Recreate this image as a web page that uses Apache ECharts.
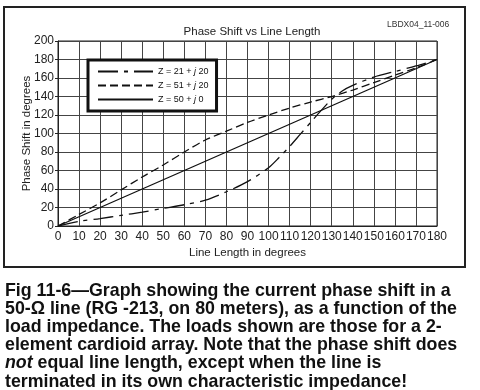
<!DOCTYPE html>
<html>
<head>
<meta charset="utf-8">
<script src="https://cdn.jsdelivr.net/npm/echarts@6/dist/echarts.min.js"></script>
<style>
html,body{margin:0;padding:0;background:#fff;}
#c{width:480px;height:390px;}
</style>
</head>
<body>
<div id="c"></div>
<script>
// ---- data ----
var xTicks = [0,10,20,30,40,50,60,70,80,90,100,110,120,130,140,150,160,170,180];
var z50X = [0,10,20,30,40,50,60,70,80,90,100,110,120,130,140,150,160,170,180];
var z50Y = [0,10,20,30,40,50,60,70,80,90,100,110,120,130,140,150,160,170,180];
var z51X = [0,10,20,30,40,50,60,70,80,90,100,110,120,130,140,150,160,170,180];
var z51Y = [0,12.5,25,39,53,66,80,93,102.5,112,120,127.5,134,140,147,155,163,171,180];
var z21X = [0,10,20,30,40,50,60,70,80,90,100,105,110,115,120,125,130,135,140,150,160,170,180];
var z21Y = [0,5,8,11.5,15,19,23,28,37,48,63,74,86,99,112,125,137,146,152,161,167,173,180];
var seriesNames = ['Z = 21 + j 20','Z = 51 + j 20','Z = 50 + j 0'];
var titleText = 'Phase Shift vs Line Length';
var codeText = 'LBDX04_11-006';
var xName = 'Line Length in degrees';
var yName = 'Phase Shift in degrees';
var captionLines = [
  'Fig 11-6\u2014Graph showing the current phase shift in a',
  '50-\u03A9 line (RG -213, on 80 meters), as a function of the',
  'load impedance. The loads shown are those for a 2-',
  'element cardioid array. Note that the phase shift does',
  '{it|not} equal line length, except when the line is',
  'terminated in its own characteristic impedance!'
];

function pairs(xs, ys){ return xs.map(function(x,i){ return [x, ys[i]]; }); }

var chart = echarts.init(document.getElementById('c'), null, {renderer:'canvas'});
var FONT = '"Liberation Sans", Arial, Helvetica, sans-serif';
var lineCol = '#111';
var CAP = 17.8;

var captionGraphics = captionLines.map(function(t, i){
  return {
    type:'text', left:5, top: 281.7 + i*18.2,
    style:{
      text:t, fill:'#111', font:'bold ' + CAP + 'px ' + FONT,
      rich:{ it:{ fontStyle:'italic', fontWeight:'bold', fontSize:CAP, fontFamily:FONT, fill:'#111' } }
    }
  };
});

chart.setOption({
  animation:false,
  backgroundColor:'#fff',
  textStyle:{fontFamily:FONT},
  title:{
    text:titleText, left:247, top:21, textAlign:'center',
    textStyle:{fontSize:11.5, fontWeight:'normal', color:'#222', fontFamily:FONT}
  },
  grid:{left:58, top:41, width:379, height:185, show:true, borderColor:'#222', borderWidth:1},
  legend:{
    orient:'vertical', left:88, top:60,
    data:seriesNames,
    itemWidth:55, itemHeight:8, itemGap:5,
    padding:[7,8,7,9],
    backgroundColor:'#fff', borderColor:'#111', borderWidth:3,
    itemStyle:{opacity:0},
    formatter:function(n){
      var m = n.match(/^(Z = \d+ \+ )j( \d+)$/);
      return '{a|' + m[1] + '}{i|j}{a|' + m[2] + '}';
    },
    textStyle:{
      fontSize:9, color:'#111', fontFamily:FONT,
      rich:{a:{fontSize:9,color:'#111',fontFamily:FONT}, i:{fontSize:9,color:'#111',fontStyle:'italic',fontFamily:FONT}}
    }
  },
  xAxis:{
    type:'value', min:0, max:180, interval:10,
    name:xName, nameLocation:'middle', nameGap:21,
    nameTextStyle:{fontSize:11.5, color:'#222', fontFamily:FONT},
    axisLine:{show:true, lineStyle:{color:'#222', width:1}},
    axisTick:{show:false},
    axisLabel:{fontSize:12, color:'#222', margin:5, fontFamily:FONT},
    splitLine:{show:true, lineStyle:{color:'#444', width:1}}
  },
  yAxis:{
    type:'value', min:0, max:200, interval:20,
    name:yName, nameLocation:'middle', nameGap:25, nameRotate:90, nameMoveOverlap:false,
    nameTextStyle:{fontSize:11.5, color:'#222', fontFamily:FONT},
    axisLine:{show:true, lineStyle:{color:'#222', width:1}},
    axisTick:{show:true, length:3, lineStyle:{color:'#222'}},
    axisLabel:{fontSize:12, color:'#222', margin:4, fontFamily:FONT},
    splitLine:{show:true, lineStyle:{color:'#444', width:1}}
  },
  series:[
    {name:seriesNames[0], type:'line', smooth:0.3, symbol:'none', data:pairs(z21X,z21Y),
     lineStyle:{color:lineCol, width:1.3, type:[20,6,4,6]}, itemStyle:{color:lineCol}},
    {name:seriesNames[1], type:'line', smooth:0.3, symbol:'none', data:pairs(z51X,z51Y),
     lineStyle:{color:lineCol, width:1.3, type:[8,4]}, itemStyle:{color:lineCol}},
    {name:seriesNames[2], type:'line', symbol:'none', data:pairs(z50X,z50Y),
     lineStyle:{color:lineCol, width:1.3, type:'solid'}, itemStyle:{color:lineCol}}
  ],
  graphic:[
    {type:'rect', shape:{x:4, y:7, width:461, height:260}, style:{fill:'none', stroke:'#222', lineWidth:2}, z:-1},
    {type:'text', left:387, top:20, style:{text:codeText, fill:'#333', font:'8.5px ' + FONT}}
  ].concat(captionGraphics)
});
</script>
</body>
</html>
